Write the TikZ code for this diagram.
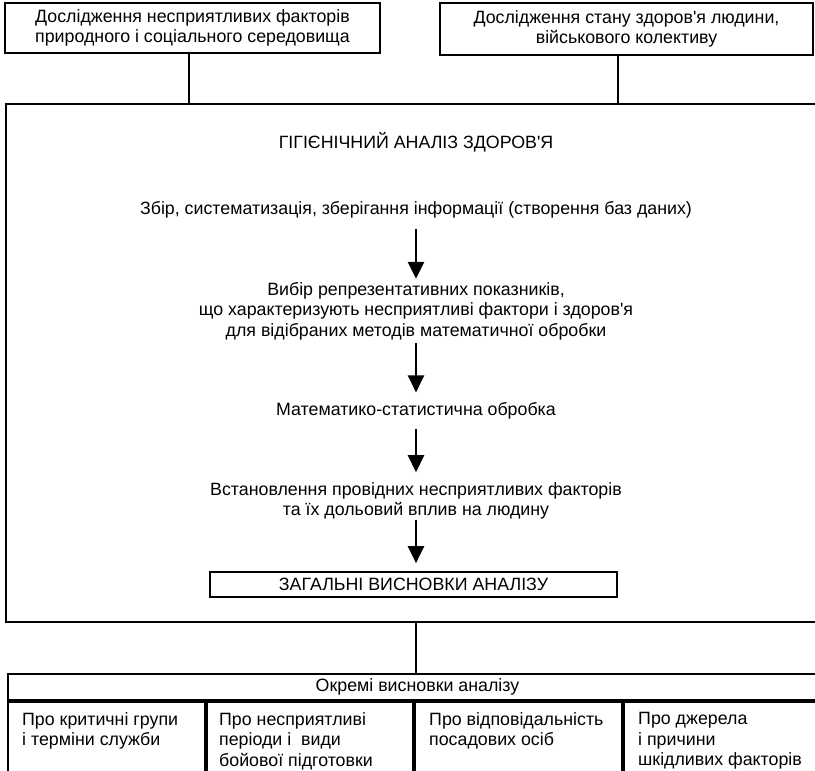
\documentclass[tikz,border=0pt]{standalone}
\usepackage{fontspec}
\setmainfont{Liberation Sans}
\usepackage{tikz}
\usetikzlibrary{arrows.meta,positioning,calc}
\definecolor{hgInk}{HTML}{000000}
\newcommand{\hgfont}{\fontsize{17.8pt}{20.6pt}\selectfont}
\newcommand{\apos}{\textquotesingle}
\tikzset{
  topbox/.style={draw=hgInk, line width=2pt, align=center, inner sep=0pt, font=\hgfont, execute at begin node={\rule{0pt}{19pt}}},
  frame/.style={draw=hgInk, line width=2pt, inner sep=0pt},
  txt/.style={align=center, inner sep=0pt, font=\hgfont, text=hgInk},
  sumbox/.style={draw=hgInk, line width=1.7pt, minimum width=407pt, minimum height=25pt, inner sep=0pt, font=\hgfont},
  cell/.style={draw=hgInk, line width=2pt, inner sep=0pt, font=\hgfont},
  celltxt/.style={align=left, inner sep=0pt, font=\hgfont, anchor=north west},
  arr/.style={-{Triangle[length=17pt,width=16pt]}, line width=2.5pt, draw=hgInk},
  link/.style={line width=1.3pt, draw=hgInk}
}
\begin{document}
\begin{tikzpicture}[x=1pt,y=-1pt]
  \path[use as bounding box] (0,0) rectangle (815,771);
  \clip (0,0) rectangle (815,771);
  % sources of data
  \node[topbox, minimum width=375pt, minimum height=50pt] (natural) at (192.5,28) {Дослідження несприятливих факторів\\природного і соціального середовища};
  \node[topbox, minimum width=373pt, minimum height=52pt] (health) at (626.5,29) {Дослідження стану здоров\apos я людини,\\військового колективу};
  % analysis frame
  \node[frame, minimum width=820pt, minimum height=518pt] (analysis) at (416,363) {};
  \draw[link] ([xshift=-3.5pt]natural.south) -- ([xshift=-3.5pt]natural.south |- analysis.north);
  \draw[link] ([xshift=-8.5pt]health.south) -- ([xshift=-8.5pt]health.south |- analysis.north);
  \node[txt] (title) at (416,142) {ГІГІЄНІЧНИЙ АНАЛІЗ ЗДОРОВ\apos Я};
  \node[txt] (collect) at (416,210) {Збір, систематизація, зберігання інформації (створення баз даних)};
  \node[txt] (select) at (416,311) {Вибір репрезентативних показників,\\що характеризують несприятливі фактори і здоров\apos я\\для відібраних методів математичної обробки};
  \node[txt] (stats) at (416,411) {Математико-статистична обробка};
  \node[txt] (leading) at (416,501) {Встановлення провідних несприятливих факторів\\та їх дольовий вплив на людину};
  \node[sumbox] (general) at (413.5,584.5) {ЗАГАЛЬНІ ВИСНОВКИ АНАЛІЗУ};
  \draw[arr, shorten <=10pt, shorten >=3pt] (collect) -- (select);
  \draw[arr, shorten <=3pt, shorten >=10pt] (select) -- (stats);
  \draw[arr, shorten <=9pt, shorten >=10pt] (stats) -- (leading);
  \draw[arr, shorten <=0pt, shorten >=8pt] (leading.south) -- (leading.south |- general.north);
  % separate conclusions
  \node[cell, minimum width=819pt, minimum height=26pt, anchor=north west] (partial) at (7,673) {Окремі висновки аналізу};
  \draw[link] (analysis.south) -- (analysis.south |- partial.north);
  \node[cell, minimum width=197pt, minimum height=100pt, anchor=north west] (groups) at (partial.south west) {};
  \node[cell, minimum width=206pt, minimum height=100pt, anchor=north west] (periods) at (groups.north east) {};
  \node[cell, minimum width=207pt, minimum height=100pt, anchor=north west] (officials) at (periods.north east) {};
  \node[cell, minimum width=209pt, minimum height=100pt, anchor=north west] (sources) at (officials.north east) {};
  \node[celltxt] at ([xshift=15pt,yshift=-11pt]groups.north west) {Про критичні групи\\і терміни служби};
  \node[celltxt] at ([xshift=13pt,yshift=-11pt]periods.north west) {Про несприятливі\\періоди і~ види\\бойової підготовки};
  \node[celltxt] at ([xshift=15pt,yshift=-11pt]officials.north west) {Про відповідальність\\посадових осіб};
  \node[celltxt] at ([xshift=15pt,yshift=-11pt]sources.north west) {Про джерела\\і причини\\шкідливих факторів};
\end{tikzpicture}
\end{document}
